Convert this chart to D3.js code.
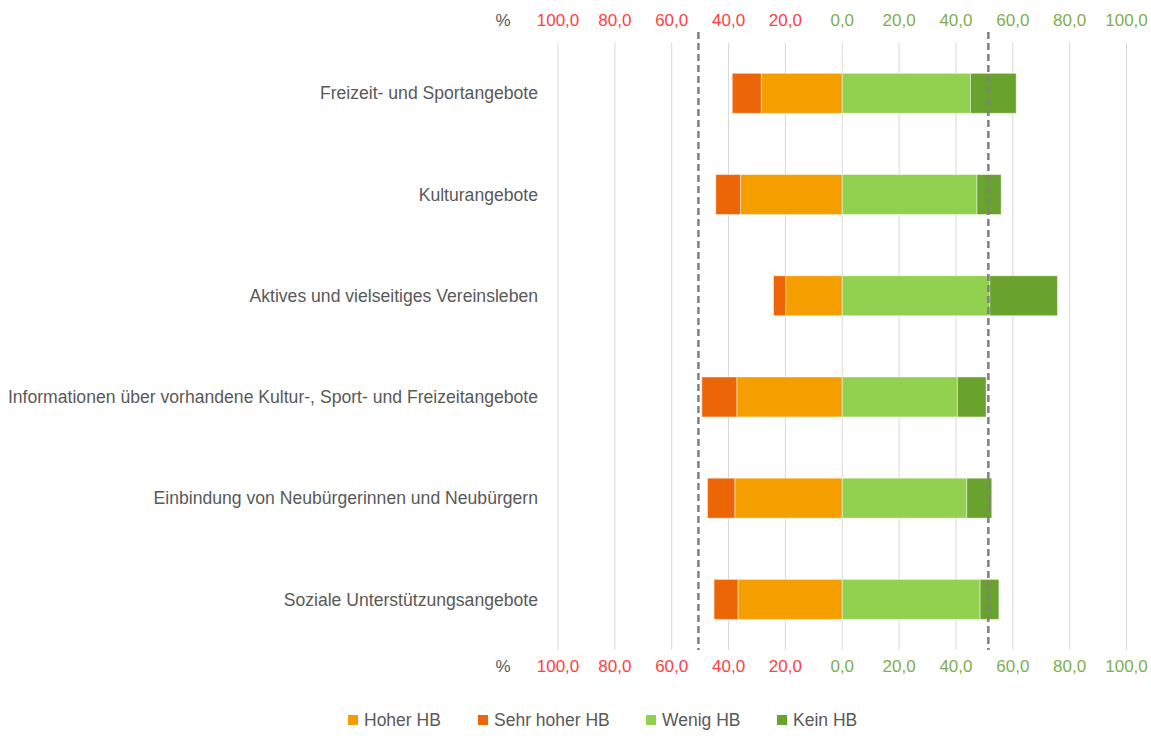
<!DOCTYPE html>
<html>
<head>
<meta charset="utf-8">
<script src="https://cdn.jsdelivr.net/npm/d3@7"></script>
<style>
  body { margin: 0; background: #fff; }
  svg { display: block; font-family: "Liberation Sans", Arial, sans-serif; }
  .cat { fill: #595959; font-size: 17.6px; }
  .tick-lbl { font-family: "Liberation Sans Narrow", "Liberation Sans", sans-serif; font-size: 17px; }
  .legend text { fill: #595959; font-size: 17.5px; }
</style>
</head>
<body>
<svg width="1151" height="736"></svg>
<script>
const categories = [
    "Freizeit- und Sportangebote",
    "Kulturangebote",
    "Aktives und vielseitiges Vereinsleben",
    "Informationen über vorhandene Kultur-, Sport- und Freizeitangebote",
    "Einbindung von Neubürgerinnen und Neubürgern",
    "Soziale Unterstützungsangebote"
]
const hoherHB = [28.5, 35.8, 19.9, 37.1, 37.8, 36.7]
const sehrHoherHB = [10.2, 8.7, 4.3, 12.3, 9.6, 8.4]
const wenigHB = [45.1, 47.4, 51.9, 40.5, 43.8, 48.5]
const keinHB = [16.1, 8.5, 23.8, 10.1, 8.8, 6.6]
const refLines = [-50.6, 51.4]
const tickValues = [-100, -80, -60, -40, -20, 0, 20, 40, 60, 80, 100]

const keys = ["Hoher HB", "Sehr hoher HB", "Wenig HB", "Kein HB"]
const colors = {
    "Hoher HB": "#F59E00",
    "Sehr hoher HB": "#EC6608",
    "Wenig HB": "#92D050",
    "Kein HB": "#6AA22E"
}

// negative side for the "high" answers
const rows = categories.map((c, i) => ({
    cat: c,
    "Hoher HB": -hoherHB[i],
    "Sehr hoher HB": -sehrHoherHB[i],
    "Wenig HB": wenigHB[i],
    "Kein HB": keinHB[i]
}))

const svg = d3.select('svg')

const x = d3.scaleLinear()
    .domain([-100, 100])
    .range([558, 1126.5])

const plotTop = 42.7, plotBottom = 650

const y = d3.scaleBand()
    .domain(categories)
    .range([plotTop, plotBottom])
    .paddingInner(0.605)
    .paddingOuter(0.3025)

// gridlines
svg.append('g')
    .selectAll('line')
    .data(tickValues).enter()
    .append('line')
    .attr('x1', d => x(d)).attr('x2', d => x(d))
    .attr('y1', plotTop).attr('y2', plotBottom)
    .attr('stroke', '#D9D9D9')
    .attr('stroke-width', 1)

// tick labels, top and bottom
const fmt = d => d3.format('.1f')(Math.abs(d)).replace('.', ',')
const tickColor = d => d < 0 ? '#FF4040' : '#7DAF4C'
;[26, 672].forEach(yy => {
    const g = svg.append('g')
    g.selectAll('text')
        .data(tickValues).enter()
        .append('text')
        .attr('class', 'tick-lbl')
        .attr('x', d => x(d))
        .attr('y', yy)
        .attr('text-anchor', 'middle')
        .attr('fill', tickColor)
        .text(fmt)
    g.append('text')
        .attr('x', 503)
        .attr('y', yy)
        .attr('text-anchor', 'middle')
        .attr('fill', '#595959')
        .style('font-size', '17px')
        .text('%')
})

// stacked bars
const series = d3.stack()
    .keys(keys)
    .offset(d3.stackOffsetDiverging)(rows)

svg.append('g')
    .selectAll('g')
    .data(series).enter()
    .append('g')
    .attr('fill', d => colors[d.key])
    .selectAll('rect')
    .data(d => d).enter()
    .append('rect')
    .attr('x', d => x(Math.min(d[0], d[1])))
    .attr('width', d => Math.abs(x(d[1]) - x(d[0])))
    .attr('y', d => y(d.data.cat))
    .attr('height', y.bandwidth())
    .attr('stroke', '#fff')
    .attr('stroke-opacity', 0.45)
    .attr('stroke-width', 1)

// reference lines
svg.append('g')
    .selectAll('line')
    .data(refLines).enter()
    .append('line')
    .attr('x1', d => x(d)).attr('x2', d => x(d))
    .attr('y1', 32).attr('y2', 650)
    .attr('stroke', '#808080')
    .attr('stroke-width', 2.5)
    .attr('stroke-dasharray', '7,4')

// category labels
svg.append('g')
    .selectAll('text')
    .data(categories).enter()
    .append('text')
    .attr('class', 'cat')
    .attr('x', 538)
    .attr('y', d => y(d) + y.bandwidth() / 2)
    .attr('dy', '0.35em')
    .attr('text-anchor', 'end')
    .text(d => d)

// legend
const legendX = [348, 478, 646, 777]
const legend = svg.append('g')
    .attr('class', 'legend')
    .selectAll('g')
    .data(keys).enter()
    .append('g')
    .attr('transform', (d, i) => `translate(${legendX[i]}, 720)`)

legend.append('rect')
    .attr('x', 0).attr('y', -5)
    .attr('width', 10).attr('height', 10)
    .attr('fill', d => colors[d])

legend.append('text')
    .attr('x', 16)
    .attr('dy', '0.35em')
    .text(d => d)
</script>
</body>
</html>
